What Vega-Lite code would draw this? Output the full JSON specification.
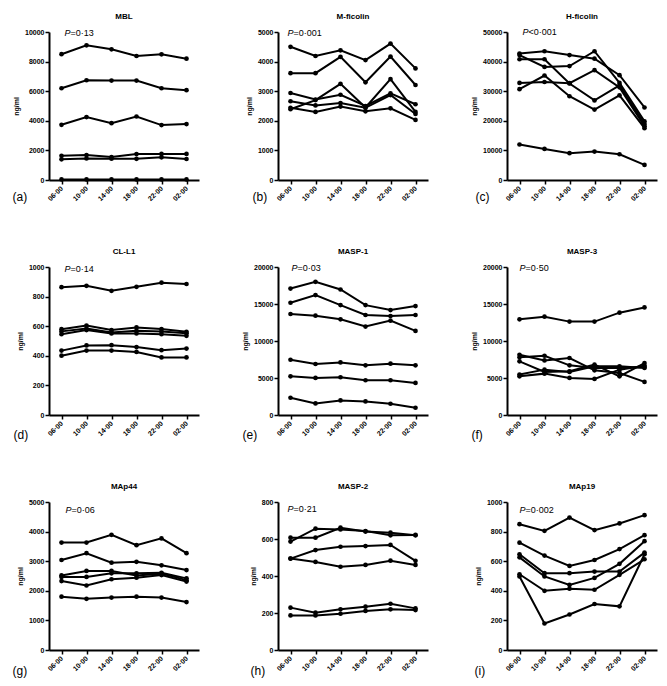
{
"$schema": "https://vega.github.io/schema/vega-lite/v6.json",
"background": "white",
"padding": {"left": 12, "top": 13, "right": 5, "bottom": 5},
"bounds": "flush",
"columns": 3,
"spacing": {"row": 87, "column": 79},
"concat": [
{
 "title": "MBL", "width": 150, "height": 148,
 "data": {"values": [
  {"s":1,"t":"06·00","v":8500},{"s":1,"t":"10·00","v":9100},{"s":1,"t":"14·00","v":8830},{"s":1,"t":"18·00","v":8380},{"s":1,"t":"22·00","v":8490},{"s":1,"t":"02·00","v":8200},
  {"s":2,"t":"06·00","v":6200},{"s":2,"t":"10·00","v":6740},{"s":2,"t":"14·00","v":6720},{"s":2,"t":"18·00","v":6720},{"s":2,"t":"22·00","v":6200},{"s":2,"t":"02·00","v":6070},
  {"s":3,"t":"06·00","v":3730},{"s":3,"t":"10·00","v":4250},{"s":3,"t":"14·00","v":3840},{"s":3,"t":"18·00","v":4290},{"s":3,"t":"22·00","v":3710},{"s":3,"t":"02·00","v":3780},
  {"s":4,"t":"06·00","v":1640},{"s":4,"t":"10·00","v":1690},{"s":4,"t":"14·00","v":1550},{"s":4,"t":"18·00","v":1750},{"s":4,"t":"22·00","v":1760},{"s":4,"t":"02·00","v":1760},
  {"s":5,"t":"06·00","v":1400},{"s":5,"t":"10·00","v":1460},{"s":5,"t":"14·00","v":1440},{"s":5,"t":"18·00","v":1430},{"s":5,"t":"22·00","v":1530},{"s":5,"t":"02·00","v":1420},
  {"s":6,"t":"06·00","v":40},{"s":6,"t":"10·00","v":40},{"s":6,"t":"14·00","v":40},{"s":6,"t":"18·00","v":40},{"s":6,"t":"22·00","v":40},{"s":6,"t":"02·00","v":40}
 ]},
 "encoding": {
  "x": {"field":"t","type":"ordinal","scale":{"domain":["06·00","10·00","14·00","18·00","22·00","02·00"]},"axis":{"title":"(a)","titleX":-37,"titleY":16}},
  "y": {"field":"v","type":"quantitative","scale":{"domain":[0,10000],"nice":false},"axis":{"values":[0,2000,4000,6000,8000,10000],"title":"ng/ml","format":"d"}}
 },
 "layer": [
  {"mark":{"type":"line","color":"black","strokeWidth":2},"encoding":{"detail":{"field":"s"}}},
  {"mark":{"type":"point","filled":true,"color":"black","size":22,"opacity":1}},
  {"data":{"values":[{"t":"06·00","v":10000,"p":"P"}]},"mark":{"type":"text","fontStyle":"italic","dx":3,"dy":1},"encoding":{"text":{"field":"p","type":"nominal"}}},
  {"data":{"values":[{"t":"06·00","v":10000,"p":"=0·13"}]},"mark":{"type":"text","dx":9,"dy":1},"encoding":{"text":{"field":"p","type":"nominal"}}}
 ]
},
{
 "title": "M-ficolin", "width": 150, "height": 148,
 "data": {"values": [
  {"s":1,"t":"06·00","v":4500},{"s":1,"t":"10·00","v":4190},{"s":1,"t":"14·00","v":4380},{"s":1,"t":"18·00","v":4050},{"s":1,"t":"22·00","v":4610},{"s":1,"t":"02·00","v":3770},
  {"s":2,"t":"06·00","v":3610},{"s":2,"t":"10·00","v":3610},{"s":2,"t":"14·00","v":4160},{"s":2,"t":"18·00","v":3300},{"s":2,"t":"22·00","v":4170},{"s":2,"t":"02·00","v":3210},
  {"s":3,"t":"06·00","v":2940},{"s":3,"t":"10·00","v":2720},{"s":3,"t":"14·00","v":2880},{"s":3,"t":"18·00","v":2500},{"s":3,"t":"22·00","v":2930},{"s":3,"t":"02·00","v":2560},
  {"s":4,"t":"06·00","v":2390},{"s":4,"t":"10·00","v":2700},{"s":4,"t":"14·00","v":3250},{"s":4,"t":"18·00","v":2450},{"s":4,"t":"22·00","v":3410},{"s":4,"t":"02·00","v":2300},
  {"s":5,"t":"06·00","v":2660},{"s":5,"t":"10·00","v":2520},{"s":5,"t":"14·00","v":2600},{"s":5,"t":"18·00","v":2440},{"s":5,"t":"22·00","v":2870},{"s":5,"t":"02·00","v":2230},
  {"s":6,"t":"06·00","v":2440},{"s":6,"t":"10·00","v":2300},{"s":6,"t":"14·00","v":2480},{"s":6,"t":"18·00","v":2320},{"s":6,"t":"22·00","v":2420},{"s":6,"t":"02·00","v":2030}
 ]},
 "encoding": {
  "x": {"field":"t","type":"ordinal","scale":{"domain":["06·00","10·00","14·00","18·00","22·00","02·00"]},"axis":{"title":"(b)","titleX":-26,"titleY":16}},
  "y": {"field":"v","type":"quantitative","scale":{"domain":[0,5000],"nice":false},"axis":{"values":[0,1000,2000,3000,4000,5000],"title":"ng/ml","format":"d"}}
 },
 "layer": [
  {"mark":{"type":"line","color":"black","strokeWidth":2},"encoding":{"detail":{"field":"s"}}},
  {"mark":{"type":"point","filled":true,"color":"black","size":22,"opacity":1}},
  {"data":{"values":[{"t":"06·00","v":5000,"p":"P"}]},"mark":{"type":"text","fontStyle":"italic","dx":-3,"dy":1},"encoding":{"text":{"field":"p","type":"nominal"}}},
  {"data":{"values":[{"t":"06·00","v":5000,"p":"=0·001"}]},"mark":{"type":"text","dx":3,"dy":1},"encoding":{"text":{"field":"p","type":"nominal"}}}
 ]
},
{
 "title": "H-ficolin", "width": 150, "height": 148,
 "data": {"values": [
  {"s":1,"t":"06·00","v":42700},{"s":1,"t":"10·00","v":43500},{"s":1,"t":"14·00","v":42200},{"s":1,"t":"18·00","v":41000},{"s":1,"t":"22·00","v":35400},{"s":1,"t":"02·00","v":24500},
  {"s":2,"t":"06·00","v":42200},{"s":2,"t":"10·00","v":38200},{"s":2,"t":"14·00","v":38500},{"s":2,"t":"18·00","v":43500},{"s":2,"t":"22·00","v":32800},{"s":2,"t":"02·00","v":19800},
  {"s":3,"t":"06·00","v":40800},{"s":3,"t":"10·00","v":40800},{"s":3,"t":"14·00","v":32600},{"s":3,"t":"18·00","v":26900},{"s":3,"t":"22·00","v":32000},{"s":3,"t":"02·00","v":18900},
  {"s":4,"t":"06·00","v":32800},{"s":4,"t":"10·00","v":33100},{"s":4,"t":"14·00","v":32700},{"s":4,"t":"18·00","v":37100},{"s":4,"t":"22·00","v":31300},{"s":4,"t":"02·00","v":18200},
  {"s":5,"t":"06·00","v":30700},{"s":5,"t":"10·00","v":35300},{"s":5,"t":"14·00","v":28300},{"s":5,"t":"18·00","v":23800},{"s":5,"t":"22·00","v":28600},{"s":5,"t":"02·00","v":17500},
  {"s":6,"t":"06·00","v":12000},{"s":6,"t":"10·00","v":10500},{"s":6,"t":"14·00","v":9050},{"s":6,"t":"18·00","v":9600},{"s":6,"t":"22·00","v":8700},{"s":6,"t":"02·00","v":5100}
 ]},
 "encoding": {
  "x": {"field":"t","type":"ordinal","scale":{"domain":["06·00","10·00","14·00","18·00","22·00","02·00"]},"axis":{"title":"(c)","titleX":-32,"titleY":16}},
  "y": {"field":"v","type":"quantitative","scale":{"domain":[0,50000],"nice":false},"axis":{"values":[0,10000,20000,30000,40000,50000],"title":"ng/ml","format":"d"}}
 },
 "layer": [
  {"mark":{"type":"line","color":"black","strokeWidth":2},"encoding":{"detail":{"field":"s"}}},
  {"mark":{"type":"point","filled":true,"color":"black","size":22,"opacity":1}},
  {"data":{"values":[{"t":"06·00","v":50000,"p":"P"}]},"mark":{"type":"text","fontStyle":"italic","dx":3,"dy":0},"encoding":{"text":{"field":"p","type":"nominal"}}},
  {"data":{"values":[{"t":"06·00","v":50000,"p":"<0·001"}]},"mark":{"type":"text","dx":9,"dy":0},"encoding":{"text":{"field":"p","type":"nominal"}}}
 ]
},
{
 "title": "CL-L1", "width": 150, "height": 148,
 "data": {"values": [
  {"s":1,"t":"06·00","v":864},{"s":1,"t":"10·00","v":873},{"s":1,"t":"14·00","v":839},{"s":1,"t":"18·00","v":866},{"s":1,"t":"22·00","v":894},{"s":1,"t":"02·00","v":885},
  {"s":2,"t":"06·00","v":580},{"s":2,"t":"10·00","v":604},{"s":2,"t":"14·00","v":574},{"s":2,"t":"18·00","v":592},{"s":2,"t":"22·00","v":581},{"s":2,"t":"02·00","v":562},
  {"s":3,"t":"06·00","v":565},{"s":3,"t":"10·00","v":585},{"s":3,"t":"14·00","v":558},{"s":3,"t":"18·00","v":569},{"s":3,"t":"22·00","v":565},{"s":3,"t":"02·00","v":553},
  {"s":4,"t":"06·00","v":546},{"s":4,"t":"10·00","v":574},{"s":4,"t":"14·00","v":551},{"s":4,"t":"18·00","v":551},{"s":4,"t":"22·00","v":546},{"s":4,"t":"02·00","v":535},
  {"s":5,"t":"06·00","v":435},{"s":5,"t":"10·00","v":470},{"s":5,"t":"14·00","v":472},{"s":5,"t":"18·00","v":459},{"s":5,"t":"22·00","v":438},{"s":5,"t":"02·00","v":449},
  {"s":6,"t":"06·00","v":401},{"s":6,"t":"10·00","v":435},{"s":6,"t":"14·00","v":435},{"s":6,"t":"18·00","v":426},{"s":6,"t":"22·00","v":389},{"s":6,"t":"02·00","v":389}
 ]},
 "encoding": {
  "x": {"field":"t","type":"ordinal","scale":{"domain":["06·00","10·00","14·00","18·00","22·00","02·00"]},"axis":{"title":"(d)","titleX":-36,"titleY":19}},
  "y": {"field":"v","type":"quantitative","scale":{"domain":[0,1000],"nice":false},"axis":{"values":[0,200,400,600,800,1000],"title":"ng/ml","format":"d"}}
 },
 "layer": [
  {"mark":{"type":"line","color":"black","strokeWidth":2},"encoding":{"detail":{"field":"s"}}},
  {"mark":{"type":"point","filled":true,"color":"black","size":22,"opacity":1}},
  {"data":{"values":[{"t":"06·00","v":1000,"p":"P"}]},"mark":{"type":"text","fontStyle":"italic","dx":3,"dy":2},"encoding":{"text":{"field":"p","type":"nominal"}}},
  {"data":{"values":[{"t":"06·00","v":1000,"p":"=0·14"}]},"mark":{"type":"text","dx":9,"dy":2},"encoding":{"text":{"field":"p","type":"nominal"}}}
 ]
},
{
 "title": "MASP-1", "width": 150, "height": 148,
 "data": {"values": [
  {"s":1,"t":"06·00","v":17090},{"s":1,"t":"10·00","v":17990},{"s":1,"t":"14·00","v":16960},{"s":1,"t":"18·00","v":14850},{"s":1,"t":"22·00","v":14180},{"s":1,"t":"02·00","v":14720},
  {"s":2,"t":"06·00","v":15170},{"s":2,"t":"10·00","v":16200},{"s":2,"t":"14·00","v":14850},{"s":2,"t":"18·00","v":13510},{"s":2,"t":"22·00","v":13380},{"s":2,"t":"02·00","v":13510},
  {"s":3,"t":"06·00","v":13650},{"s":3,"t":"10·00","v":13420},{"s":3,"t":"14·00","v":12930},{"s":3,"t":"18·00","v":11950},{"s":3,"t":"22·00","v":12750},{"s":3,"t":"02·00","v":11360},
  {"s":4,"t":"06·00","v":7470},{"s":4,"t":"10·00","v":6890},{"s":4,"t":"14·00","v":7110},{"s":4,"t":"18·00","v":6710},{"s":4,"t":"22·00","v":6940},{"s":4,"t":"02·00","v":6710},
  {"s":5,"t":"06·00","v":5230},{"s":5,"t":"10·00","v":5010},{"s":5,"t":"14·00","v":5100},{"s":5,"t":"18·00","v":4700},{"s":5,"t":"22·00","v":4700},{"s":5,"t":"02·00","v":4340},
  {"s":6,"t":"06·00","v":2330},{"s":6,"t":"10·00","v":1570},{"s":6,"t":"14·00","v":1970},{"s":6,"t":"18·00","v":1830},{"s":6,"t":"22·00","v":1520},{"s":6,"t":"02·00","v":980}
 ]},
 "encoding": {
  "x": {"field":"t","type":"ordinal","scale":{"domain":["06·00","10·00","14·00","18·00","22·00","02·00"]},"axis":{"title":"(e)","titleX":-36,"titleY":19}},
  "y": {"field":"v","type":"quantitative","scale":{"domain":[0,20000],"nice":false},"axis":{"values":[0,5000,10000,15000,20000],"title":"ng/ml","format":"d"}}
 },
 "layer": [
  {"mark":{"type":"line","color":"black","strokeWidth":2},"encoding":{"detail":{"field":"s"}}},
  {"mark":{"type":"point","filled":true,"color":"black","size":22,"opacity":1}},
  {"data":{"values":[{"t":"06·00","v":20000,"p":"P"}]},"mark":{"type":"text","fontStyle":"italic","dx":1,"dy":1},"encoding":{"text":{"field":"p","type":"nominal"}}},
  {"data":{"values":[{"t":"06·00","v":20000,"p":"=0·03"}]},"mark":{"type":"text","dx":7,"dy":1},"encoding":{"text":{"field":"p","type":"nominal"}}}
 ]
},
{
 "title": "MASP-3", "width": 150, "height": 148,
 "data": {"values": [
  {"s":1,"t":"06·00","v":12930},{"s":1,"t":"10·00","v":13290},{"s":1,"t":"14·00","v":12620},{"s":1,"t":"18·00","v":12620},{"s":1,"t":"22·00","v":13830},{"s":1,"t":"02·00","v":14540},
  {"s":2,"t":"06·00","v":8140},{"s":2,"t":"10·00","v":7380},{"s":2,"t":"14·00","v":7700},{"s":2,"t":"18·00","v":6040},{"s":2,"t":"22·00","v":5680},{"s":2,"t":"02·00","v":4470},
  {"s":3,"t":"06·00","v":7790},{"s":3,"t":"10·00","v":8010},{"s":3,"t":"14·00","v":6710},{"s":3,"t":"18·00","v":6350},{"s":3,"t":"22·00","v":6350},{"s":3,"t":"02·00","v":6490},
  {"s":4,"t":"06·00","v":7250},{"s":4,"t":"10·00","v":5820},{"s":4,"t":"14·00","v":5910},{"s":4,"t":"18·00","v":6800},{"s":4,"t":"22·00","v":5230},{"s":4,"t":"02·00","v":7020},
  {"s":5,"t":"06·00","v":5460},{"s":5,"t":"10·00","v":6130},{"s":5,"t":"14·00","v":5820},{"s":5,"t":"18·00","v":6580},{"s":5,"t":"22·00","v":6580},{"s":5,"t":"02·00","v":6350},
  {"s":6,"t":"06·00","v":5230},{"s":6,"t":"10·00","v":5590},{"s":6,"t":"14·00","v":5010},{"s":6,"t":"18·00","v":4880},{"s":6,"t":"22·00","v":6130},{"s":6,"t":"02·00","v":6670}
 ]},
 "encoding": {
  "x": {"field":"t","type":"ordinal","scale":{"domain":["06·00","10·00","14·00","18·00","22·00","02·00"]},"axis":{"title":"(f)","titleX":-36,"titleY":19}},
  "y": {"field":"v","type":"quantitative","scale":{"domain":[0,20000],"nice":false},"axis":{"values":[0,5000,10000,15000,20000],"title":"ng/ml","format":"d"}}
 },
 "layer": [
  {"mark":{"type":"line","color":"black","strokeWidth":2},"encoding":{"detail":{"field":"s"}}},
  {"mark":{"type":"point","filled":true,"color":"black","size":22,"opacity":1}},
  {"data":{"values":[{"t":"06·00","v":20000,"p":"P"}]},"mark":{"type":"text","fontStyle":"italic","dx":0,"dy":1},"encoding":{"text":{"field":"p","type":"nominal"}}},
  {"data":{"values":[{"t":"06·00","v":20000,"p":"=0·50"}]},"mark":{"type":"text","dx":6,"dy":1},"encoding":{"text":{"field":"p","type":"nominal"}}}
 ]
},
{
 "title": "MAp44", "width": 150, "height": 148,
 "data": {"values": [
  {"s":1,"t":"06·00","v":3630},{"s":1,"t":"10·00","v":3630},{"s":1,"t":"14·00","v":3890},{"s":1,"t":"18·00","v":3540},{"s":1,"t":"22·00","v":3770},{"s":1,"t":"02·00","v":3270},
  {"s":2,"t":"06·00","v":3040},{"s":2,"t":"10·00","v":3270},{"s":2,"t":"14·00","v":2950},{"s":2,"t":"18·00","v":2980},{"s":2,"t":"22·00","v":2860},{"s":2,"t":"02·00","v":2700},
  {"s":3,"t":"06·00","v":2520},{"s":3,"t":"10·00","v":2670},{"s":3,"t":"14·00","v":2670},{"s":3,"t":"18·00","v":2520},{"s":3,"t":"22·00","v":2580},{"s":3,"t":"02·00","v":2360},
  {"s":4,"t":"06·00","v":2470},{"s":4,"t":"10·00","v":2470},{"s":4,"t":"14·00","v":2590},{"s":4,"t":"18·00","v":2590},{"s":4,"t":"22·00","v":2610},{"s":4,"t":"02·00","v":2420},
  {"s":5,"t":"06·00","v":2330},{"s":5,"t":"10·00","v":2180},{"s":5,"t":"14·00","v":2390},{"s":5,"t":"18·00","v":2440},{"s":5,"t":"22·00","v":2530},{"s":5,"t":"02·00","v":2310},
  {"s":6,"t":"06·00","v":1800},{"s":6,"t":"10·00","v":1730},{"s":6,"t":"14·00","v":1770},{"s":6,"t":"18·00","v":1800},{"s":6,"t":"22·00","v":1770},{"s":6,"t":"02·00","v":1620}
 ]},
 "encoding": {
  "x": {"field":"t","type":"ordinal","scale":{"domain":["06·00","10·00","14·00","18·00","22·00","02·00"]},"axis":{"title":"(g)","titleX":-37,"titleY":20}},
  "y": {"field":"v","type":"quantitative","scale":{"domain":[0,5000],"nice":false},"axis":{"values":[0,1000,2000,3000,4000,5000],"title":"ng/ml","format":"d"}}
 },
 "layer": [
  {"mark":{"type":"line","color":"black","strokeWidth":2},"encoding":{"detail":{"field":"s"}}},
  {"mark":{"type":"point","filled":true,"color":"black","size":22,"opacity":1}},
  {"data":{"values":[{"t":"06·00","v":5000,"p":"P"}]},"mark":{"type":"text","fontStyle":"italic","dx":4,"dy":8},"encoding":{"text":{"field":"p","type":"nominal"}}},
  {"data":{"values":[{"t":"06·00","v":5000,"p":"=0·06"}]},"mark":{"type":"text","dx":10,"dy":8},"encoding":{"text":{"field":"p","type":"nominal"}}}
 ]
},
{
 "title": "MASP-2", "width": 150, "height": 148,
 "data": {"values": [
  {"s":1,"t":"06·00","v":586},{"s":1,"t":"10·00","v":656},{"s":1,"t":"14·00","v":652},{"s":1,"t":"18·00","v":643},{"s":1,"t":"22·00","v":620},{"s":1,"t":"02·00","v":622},
  {"s":2,"t":"06·00","v":607},{"s":2,"t":"10·00","v":607},{"s":2,"t":"14·00","v":661},{"s":2,"t":"18·00","v":640},{"s":2,"t":"22·00","v":634},{"s":2,"t":"02·00","v":620},
  {"s":3,"t":"06·00","v":494},{"s":3,"t":"10·00","v":540},{"s":3,"t":"14·00","v":558},{"s":3,"t":"18·00","v":562},{"s":3,"t":"22·00","v":568},{"s":3,"t":"02·00","v":482},
  {"s":4,"t":"06·00","v":494},{"s":4,"t":"10·00","v":476},{"s":4,"t":"14·00","v":450},{"s":4,"t":"18·00","v":460},{"s":4,"t":"22·00","v":483},{"s":4,"t":"02·00","v":460},
  {"s":5,"t":"06·00","v":229},{"s":5,"t":"10·00","v":202},{"s":5,"t":"14·00","v":220},{"s":5,"t":"18·00","v":234},{"s":5,"t":"22·00","v":250},{"s":5,"t":"02·00","v":225},
  {"s":6,"t":"06·00","v":187},{"s":6,"t":"10·00","v":187},{"s":6,"t":"14·00","v":196},{"s":6,"t":"18·00","v":211},{"s":6,"t":"22·00","v":220},{"s":6,"t":"02·00","v":216}
 ]},
 "encoding": {
  "x": {"field":"t","type":"ordinal","scale":{"domain":["06·00","10·00","14·00","18·00","22·00","02·00"]},"axis":{"title":"(h)","titleX":-28,"titleY":20}},
  "y": {"field":"v","type":"quantitative","scale":{"domain":[0,800],"nice":false},"axis":{"values":[0,200,400,600,800],"title":"ng/ml","format":"d"}}
 },
 "layer": [
  {"mark":{"type":"line","color":"black","strokeWidth":2},"encoding":{"detail":{"field":"s"}}},
  {"mark":{"type":"point","filled":true,"color":"black","size":22,"opacity":1}},
  {"data":{"values":[{"t":"06·00","v":800,"p":"P"}]},"mark":{"type":"text","fontStyle":"italic","dx":-3,"dy":7},"encoding":{"text":{"field":"p","type":"nominal"}}},
  {"data":{"values":[{"t":"06·00","v":800,"p":"=0·21"}]},"mark":{"type":"text","dx":3,"dy":7},"encoding":{"text":{"field":"p","type":"nominal"}}}
 ]
},
{
 "title": "MAp19", "width": 150, "height": 148,
 "data": {"values": [
  {"s":1,"t":"06·00","v":850},{"s":1,"t":"10·00","v":805},{"s":1,"t":"14·00","v":895},{"s":1,"t":"18·00","v":810},{"s":1,"t":"22·00","v":855},{"s":1,"t":"02·00","v":911},
  {"s":2,"t":"06·00","v":725},{"s":2,"t":"10·00","v":638},{"s":2,"t":"14·00","v":568},{"s":2,"t":"18·00","v":608},{"s":2,"t":"22·00","v":682},{"s":2,"t":"02·00","v":776},
  {"s":3,"t":"06·00","v":647},{"s":3,"t":"10·00","v":519},{"s":3,"t":"14·00","v":519},{"s":3,"t":"18·00","v":530},{"s":3,"t":"22·00","v":530},{"s":3,"t":"02·00","v":658},
  {"s":4,"t":"06·00","v":626},{"s":4,"t":"10·00","v":497},{"s":4,"t":"14·00","v":440},{"s":4,"t":"18·00","v":487},{"s":4,"t":"22·00","v":582},{"s":4,"t":"02·00","v":735},
  {"s":5,"t":"06·00","v":512},{"s":5,"t":"10·00","v":400},{"s":5,"t":"14·00","v":414},{"s":5,"t":"18·00","v":407},{"s":5,"t":"22·00","v":508},{"s":5,"t":"02·00","v":613},
  {"s":6,"t":"06·00","v":497},{"s":6,"t":"10·00","v":179},{"s":6,"t":"14·00","v":240},{"s":6,"t":"18·00","v":311},{"s":6,"t":"22·00","v":295},{"s":6,"t":"02·00","v":647}
 ]},
 "encoding": {
  "x": {"field":"t","type":"ordinal","scale":{"domain":["06·00","10·00","14·00","18·00","22·00","02·00"]},"axis":{"title":"(i)","titleX":-33,"titleY":20}},
  "y": {"field":"v","type":"quantitative","scale":{"domain":[0,1000],"nice":false},"axis":{"values":[0,200,400,600,800,1000],"title":"ng/ml","format":"d"}}
 },
 "layer": [
  {"mark":{"type":"line","color":"black","strokeWidth":2},"encoding":{"detail":{"field":"s"}}},
  {"mark":{"type":"point","filled":true,"color":"black","size":22,"opacity":1}},
  {"data":{"values":[{"t":"06·00","v":1000,"p":"P"}]},"mark":{"type":"text","fontStyle":"italic","dx":0,"dy":8},"encoding":{"text":{"field":"p","type":"nominal"}}},
  {"data":{"values":[{"t":"06·00","v":1000,"p":"=0·002"}]},"mark":{"type":"text","dx":6,"dy":8},"encoding":{"text":{"field":"p","type":"nominal"}}}
 ]
}
],
"config": {
 "font": "Liberation Sans",
 "view": {"stroke": null},
 "axis": {"grid": false, "domainColor": "black", "domainWidth": 2, "tickColor": "black", "tickWidth": 1.5, "tickSize": 4, "labelColor": "black", "labelFont": "Liberation Sans", "labelFontWeight": "bold", "labelFontSize": 7, "titleColor": "black", "titleFont": "Liberation Sans"},
 "axisX": {"labelAngle": -45, "labelAlign": "right", "labelBaseline": "middle", "labelPadding": 3, "titleFontSize": 12, "titleFontWeight": "normal", "titleAlign": "left", "titleBaseline": "middle", "titleAngle": 0},
 "axisY": {"titleFontSize": 7, "titleFontWeight": "bold", "titlePadding": 5, "labelPadding": 1, "labelFlush": false},
 "title": {"font": "Liberation Sans", "fontSize": 8, "fontWeight": "bold", "color": "black", "anchor": "middle", "frame": "group", "offset": 7},
 "text": {"font": "Liberation Sans", "fontSize": 9, "align": "left", "baseline": "middle", "color": "black"}
}
}
